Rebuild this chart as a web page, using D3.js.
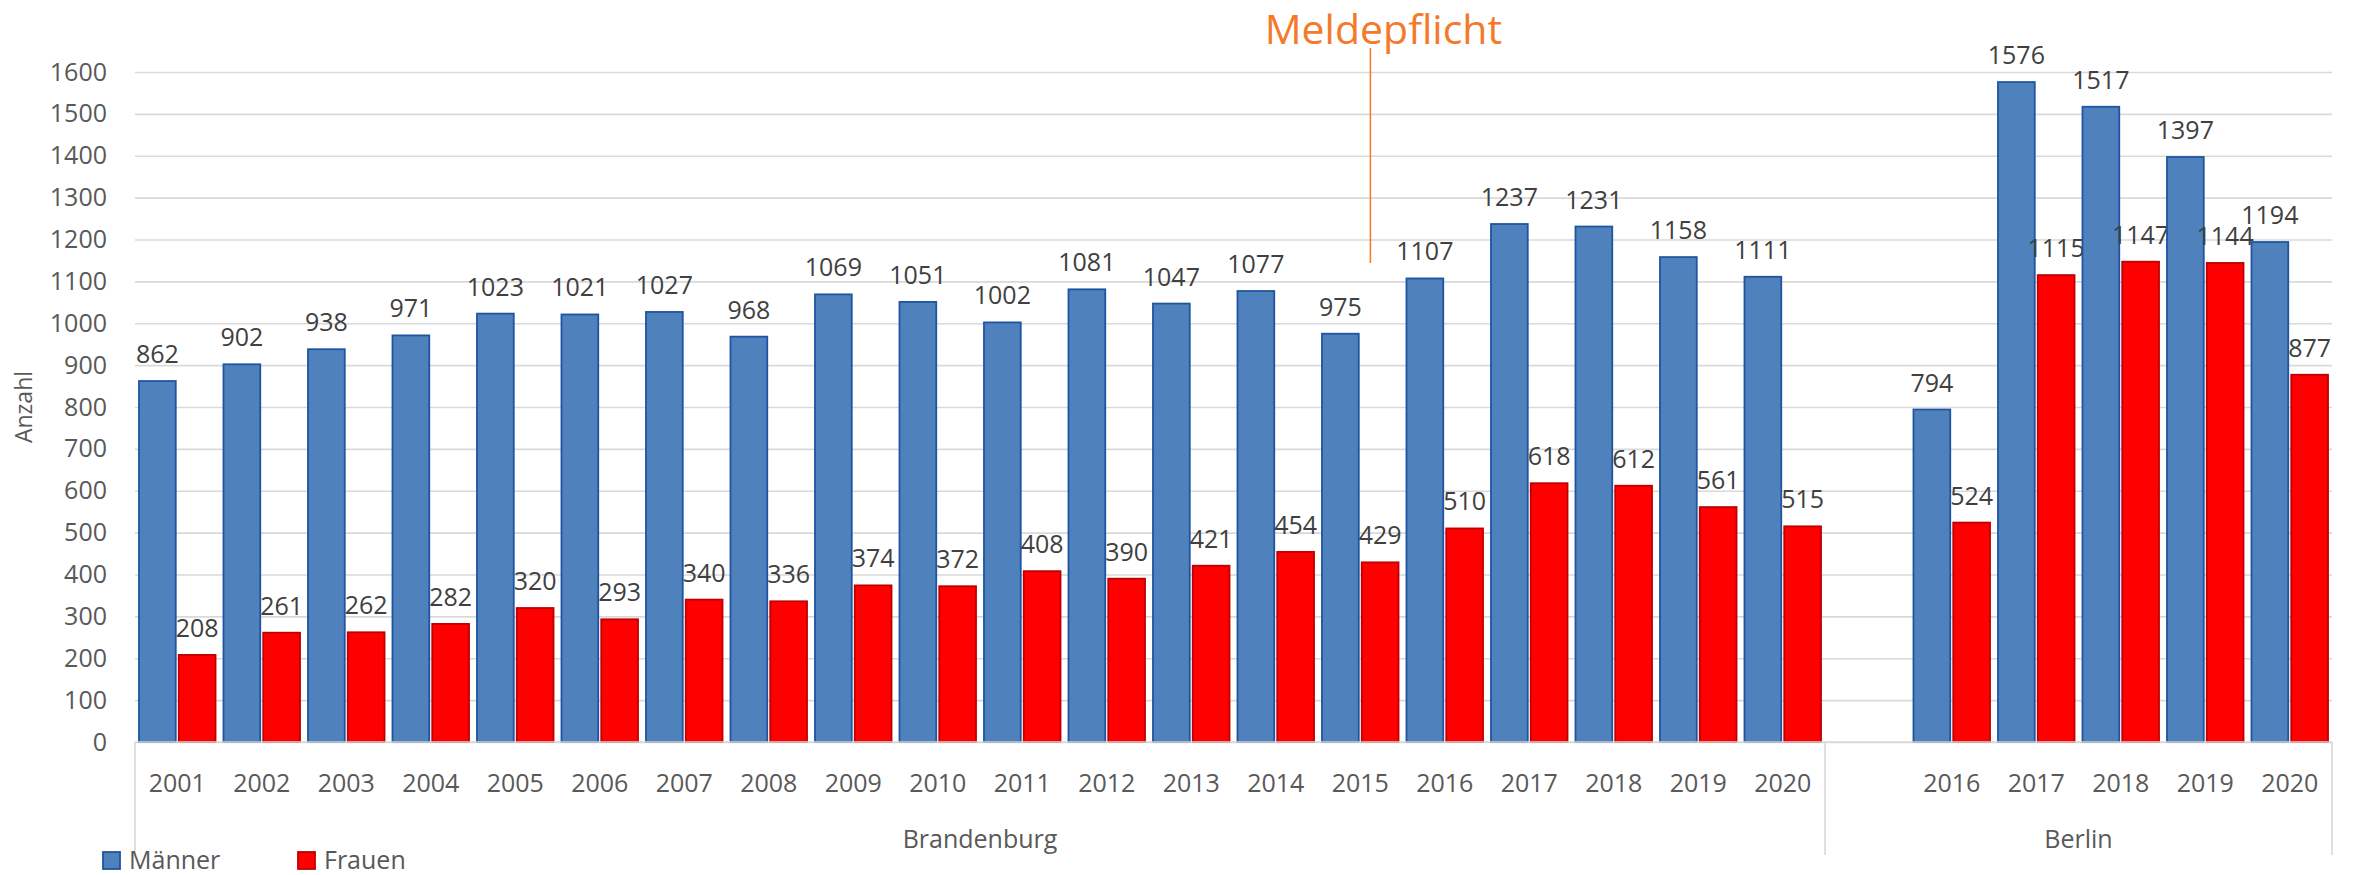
<!DOCTYPE html>
<html>
<head>
<meta charset="utf-8">
<script src="https://cdn.jsdelivr.net/npm/d3@7"></script>
<style>
	body { margin: 0; background: #fff; }
	svg { display: block; font-family: "Open Sans", sans-serif; }
</style>
</head>
<body>
<svg id="chart" width="2358" height="875"></svg>
<script>
	//data
var yearsBrandenburg = ["2001", "2002", "2003", "2004", "2005", "2006", "2007", "2008", "2009", "2010",
	"2011", "2012", "2013", "2014", "2015", "2016", "2017", "2018", "2019", "2020"];
var maennerBrandenburg = [862, 902, 938, 971, 1023, 1021, 1027, 968, 1069, 1051,
	1002, 1081, 1047, 1077, 975, 1107, 1237, 1231, 1158, 1111];
var frauenBrandenburg = [208, 261, 262, 282, 320, 293, 340, 336, 374, 372,
	408, 390, 421, 454, 429, 510, 618, 612, 561, 515];

var yearsBerlin = ["2016", "2017", "2018", "2019", "2020"];
var maennerBerlin = [794, 1576, 1517, 1397, 1194];
var frauenBerlin = [524, 1115, 1147, 1144, 877];

var groups = ["Brandenburg", "Berlin"];
var seriesNames = ["Männer", "Frauen"];
var yTicks = [0, 100, 200, 300, 400, 500, 600, 700, 800, 900, 1000, 1100, 1200, 1300, 1400, 1500, 1600];
var annotationText = "Meldepflicht";
var annotationYear = "2015";

	//build slots (Berlin has an empty slot before it, like the excel sheet)
var slots = [];
yearsBrandenburg.forEach(function(y, i) {
	slots.push({ key: "bb-" + y, year: y, group: "Brandenburg", m: maennerBrandenburg[i], f: frauenBrandenburg[i] });
});
slots.push({ key: "be-gap", year: "", group: "Berlin", m: null, f: null });
yearsBerlin.forEach(function(y, i) {
	slots.push({ key: "be-" + y, year: y, group: "Berlin", m: maennerBerlin[i], f: frauenBerlin[i] });
});

var svg = d3.select("#chart");
var plotLeft = 135, plotRight = 2332, plotTop = 72, plotBottom = 742;

var x0 = d3.scaleBand()
	.domain(slots.map(function(d) { return d.key; }))
	.range([plotLeft, plotRight])
	.padding(0);

var x1 = d3.scaleBand()
	.domain(["m", "f"])
	.range([0, x0.bandwidth()])
	.paddingInner(0.075)
	.paddingOuter(0.1);

var y = d3.scaleLinear().domain([0, 1600]).range([plotBottom, plotTop]);

var colors = { m: "#4F81BD", f: "#FF0000" };
var strokes = { m: "#1F55A0", f: "#C00000" };

	//gridlines
svg.append("g")
	.attr("transform", "translate(" + plotLeft + ",0)")
	.call(d3.axisLeft(y).tickValues(yTicks).tickSize(-(plotRight - plotLeft)).tickFormat(""))
	.call(function(g) {
		g.select(".domain").remove();
		g.selectAll("line").attr("stroke", "#D9D9D9").attr("stroke-width", 1.6);
	});

	//y tick labels
svg.append("g")
	.attr("transform", "translate(107,0)")
	.call(d3.axisLeft(y).tickValues(yTicks).tickSize(0).tickPadding(0).tickFormat(d3.format("d")))
	.call(function(g) {
		g.select(".domain").remove();
		g.selectAll("text")
			.attr("font-family", "Open Sans")
			.attr("font-size", 25)
			.attr("fill", "#595959");
	});

	//y axis title
svg.append("text")
	.attr("transform", "translate(32," + ((plotTop + plotBottom) / 2) + ") rotate(-90)")
	.attr("text-anchor", "middle")
	.attr("font-size", 23)
	.attr("fill", "#595959")
	.text("Anzahl");

	//bars
var slotG = svg.append("g").selectAll("g")
	.data(slots.filter(function(d) { return d.m !== null; }))
	.enter().append("g")
	.attr("transform", function(d) { return "translate(" + x0(d.key) + ",0)"; });

slotG.selectAll("rect")
	.data(function(d) { return [{ k: "m", v: d.m }, { k: "f", v: d.f }]; })
	.enter().append("rect")
	.attr("x", function(d) { return x1(d.k); })
	.attr("y", function(d) { return y(d.v); })
	.attr("width", x1.bandwidth())
	.attr("height", function(d) { return y(0) - y(d.v); })
	.attr("fill", function(d) { return colors[d.k]; })
	.attr("stroke", function(d) { return strokes[d.k]; })
	.attr("stroke-width", 1.8);

	//data labels
slotG.selectAll("text")
	.data(function(d) { return [{ k: "m", v: d.m }, { k: "f", v: d.f }]; })
	.enter().append("text")
	.attr("x", function(d) { return x1(d.k) + x1.bandwidth() / 2; })
	.attr("y", function(d) { return y(d.v) - 18; })
	.attr("text-anchor", "middle")
	.attr("font-size", 25)
	.attr("fill", "#404040")
	.text(function(d) { return d.v; });

	//horizontal axis line
svg.append("line")
	.attr("x1", plotLeft).attr("x2", plotRight)
	.attr("y1", y(0)).attr("y2", y(0))
	.attr("stroke", "#D9D9D9").attr("stroke-width", 1.6);

	//year labels
svg.append("g").selectAll("text")
	.data(slots.filter(function(d) { return d.year !== ""; }))
	.enter().append("text")
	.attr("x", function(d) { return x0(d.key) + x0.bandwidth() / 2; })
	.attr("y", 792)
	.attr("text-anchor", "middle")
	.attr("font-size", 25)
	.attr("fill", "#595959")
	.text(function(d) { return d.year; });

	//group brackets and labels
var groupRanges = groups.map(function(name) {
	var keys = slots.filter(function(d) { return d.group === name; });
	return {
		name: name,
		x1: x0(keys[0].key),
		x2: x0(keys[keys.length - 1].key) + x0.bandwidth()
	};
});

var sepX = [groupRanges[0].x1, groupRanges[0].x2, groupRanges[1].x2];
svg.append("g").selectAll("line")
	.data(sepX)
	.enter().append("line")
	.attr("x1", function(d) { return d; }).attr("x2", function(d) { return d; })
	.attr("y1", y(0)).attr("y2", 855)
	.attr("stroke", "#D9D9D9").attr("stroke-width", 1.6);

svg.append("g").selectAll("text")
	.data(groupRanges)
	.enter().append("text")
	.attr("x", function(d) { return (d.x1 + d.x2) / 2; })
	.attr("y", 848)
	.attr("text-anchor", "middle")
	.attr("font-size", 25)
	.attr("fill", "#595959")
	.text(function(d) { return d.name; });

	//annotation
var annX = x0("bb-" + annotationYear) + x0.bandwidth() * 0.62;
svg.append("line")
	.attr("x1", annX).attr("x2", annX)
	.attr("y1", 48).attr("y2", 263)
	.attr("stroke", "#F5792A").attr("stroke-width", 1.5);

svg.append("text")
	.attr("x", annX + 13)
	.attr("y", 44)
	.attr("text-anchor", "middle")
	.attr("font-size", 41)
	.attr("fill", "#F5792A")
	.text(annotationText);

	//legend
var legend = svg.append("g").selectAll("g")
	.data(["m", "f"])
	.enter().append("g")
	.attr("transform", function(d, i) { return "translate(" + (103 + i * 195) + ",852)"; });

legend.append("rect")
	.attr("width", 17).attr("height", 17)
	.attr("fill", function(d) { return colors[d]; })
	.attr("stroke", function(d) { return strokes[d]; })
	.attr("stroke-width", 1.8);

legend.append("text")
	.attr("x", 26)
	.attr("y", 17)
	.attr("font-size", 25)
	.attr("fill", "#595959")
	.text(function(d, i) { return seriesNames[i]; });
</script>
</body>
</html>
